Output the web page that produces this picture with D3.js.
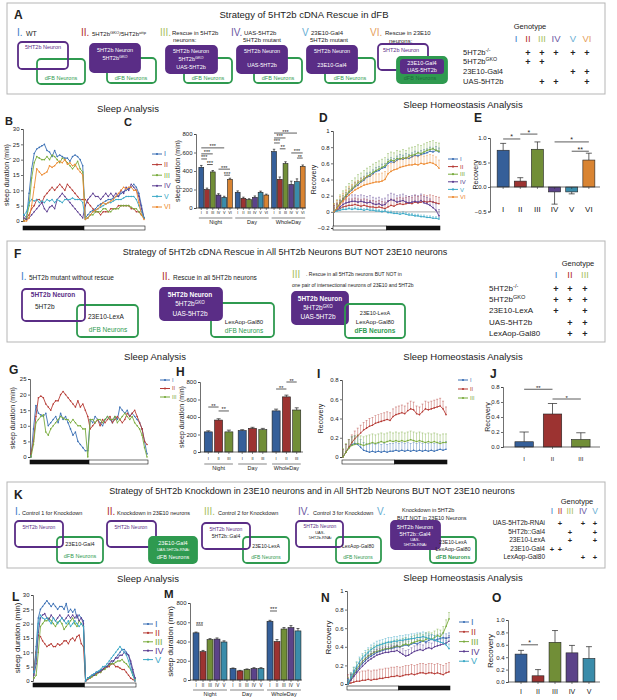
<!DOCTYPE html>
<html>
<head>
<meta charset="UTF-8">
<style>
  body { margin: 0; background: #fff; }
  svg { font-family: "Liberation Sans", Arial, sans-serif; }
  .axis text { font-size: 6px; fill: #222; }
  .axis path, .axis line { stroke: #333; stroke-width: 0.7; }
</style>
</head>
<body>
<svg width="617" height="700"></svg>
<script src="https://d3js.org/d3.v7.min.js"></script>
<script>
// ---------- data ----------
const romans = ["I", "II", "III", "IV", "V", "VI"];
const romanCol = ["#3d7cc9", "#b22d2a", "#a9bf5e", "#6b58a3", "#67aed3", "#e5a05c"];
const lineCol = ["#3a6fb4", "#b63a34", "#79ab3d", "#5b3c90", "#3aa8c6", "#ed8a30"];
const barCol = ["#355f99", "#9c3331", "#718e37", "#5b4389", "#3a8caa", "#d98432"];
const groupNames = ["Night", "Day", "WholeDay"];

// panel A genotype
const aGenoRows = ["5HT2b{-/-}", "5HT2b{GKO}", "23E10-Gal4", "UAS-5HT2b"];
const aGenoPlus = [[0,1,1,1,1,1],[0,1,1,0,0,0],[0,0,0,0,1,1],[0,0,1,1,0,1]];

// panel B sleep profiles (30 min bins, night then day)
const bI   = [2,1,9,17,22,23.5,24,24.5,25,23,22.5,21,23,21,21.5,21,20.5,20.5,19.5,21,21.5,21,20,18, 1,2,3,3.5,4,5,5.5,6,6.5,7,7,7.5,8,8,9,9.5,10,10.5,11,12,11,9,5,1];
const bII  = [0,1,2,4,5,7,7,6,8,9,10,11,10,11,12,11,10,12,11,10,9,8,7,7, 7,6,5,4,3,3,2,3,3,3,4,4,4,5,5,5,5,5,4,4,3,3,2,1];
const bIII = [0,1,5,14,19,21,20.5,20,20,21,20,21.5,21,20,19,20.5,20,19,18,17,18,19.5,17,16, 1,1,2,2,3,3,3,4,4,3,3,4,4,4,5,5,5,5,4.5,4,4,3,2,1];
const bIV  = [1,0.5,1,2,3,4,5,6,4,3,4.5,5,4,7,8,9,8,7,6,5,4,3,2,1, 5,7,8,9,8,8,7,8,9,8,9,8,9,8,10,9,11,10,12,11,10,8,4,1];
const bV   = [2,3,6,7,6.5,7,6,6.5,6,7,6.5,7,6,7,6.5,6,7,7,7,7.5,7,7,7,6, 0.5,1,2,3,3.5,4,4.5,5,5.5,6,6,6.5,7,7,7,7.5,8,8,8,8,7,5,3,1];
const bVI  = [0,0,1,5,11,17,16,15,15.5,16,18,17.5,18,19,19.5,19,20,18.5,19,18,18.5,17,16,15, 0.5,1,2,3,3.5,4,5,6,5.5,6,6.5,7,8,9,10,11,10.5,11,11,10,10,6,2,0.5];

// panel C sleep duration (min)
const cNight = [440,200,390,140,115,310], cNightErr = [20,15,15,15,12,12];
const cDay = [170,105,90,115,170,140], cDayErr = [15,12,10,15,12,10];
const cWhole = [610,310,480,255,285,450], cWholeErr = [25,25,20,35,30,15];
const cSig = [[0,4,650,"***"],[0,2,585,"***"],[0,1,530,"***"],[1,2,470,"***"],[3,5,420,"***"],[4,5,355,"***"],
              [12,16,810,"***"],[12,14,757,"***"],[12,13,703,"***"],[13,14,640,"**"],[15,17,595,"***"],[16,17,540,"**"]];

// panel D recovery curves
const dI   = [0,.04,.1,.15,.19,.24,.27,.31,.33,.37,.39,.43,.44,.47,.5,.51,.54,.55,.6,.62,.61,.64,.66,.65,.67,.66,.68,.7,.69,.71,.72,.73,.75,.74,.76,.74];
const dII  = [0,.02,.04,.06,.07,.08,.08,.09,.08,.07,.08,.07,.06,.06,.05,.06,.05,.04,.06,.08,.07,.09,.1,.09,.1,.11,.1,.12,.11,.12,.13,.12,.13,.12,.11,.1];
const dIII = [0,.05,.11,.16,.21,.25,.29,.32,.36,.38,.41,.44,.46,.49,.51,.53,.55,.57,.62,.64,.63,.66,.65,.67,.66,.69,.7,.71,.73,.72,.74,.76,.77,.78,.76,.75];
const dIV  = [0,.03,.06,.09,.11,.12,.13,.13,.12,.13,.12,.11,.12,.1,.09,.1,.08,.09,.13,.15,.14,.12,.13,.14,.12,.11,.12,.13,.12,.14,.11,.1,.08,.05,.02,-.05];
const dV   = [0,.01,.02,.03,.03,.04,.03,.04,.03,.03,.02,.03,.02,.02,.01,.01,0,.01,-.01,-.01,-.02,-.02,-.03,-.02,-.03,-.04,-.04,-.05,-.05,-.06,-.06,-.07,-.07,-.08,-.08,-.09];
const dVI  = [0,.04,.09,.13,.17,.21,.24,.27,.29,.31,.33,.34,.35,.36,.37,.37,.38,.4,.47,.5,.52,.53,.55,.56,.57,.58,.58,.59,.58,.6,.59,.6,.61,.6,.58,.54];
const dErr = [0.05, 0.08, 0.1, 0.08, 0.02, 0.1];

// panel E recovery
const eVals = [0.75,0.12,0.77,-0.1,-0.1,0.55], eErr = [0.14,0.07,0.15,0.25,0.04,0.14];
const eSig = [[0,1,0.98,"*"],[1,2,1.08,"*"],[3,5,0.92,"*"],[4,5,0.73,"**"]];

// panel F genotype
const fGenoRows = ["5HT2b{-/-}", "5HT2b{GKO}", "23E10-LexA", "UAS-5HT2b", "LexAop-Gal80"];
const fGenoPlus = [[1,1,1],[1,1,1],[1,0,1],[0,1,1],[0,1,1]];

// panel G sleep profiles
const gI   = [0,9,16.5,14,13.5,13,14,10,11,12,13,11,14,12,13,11,9,7,8,5,4,3,2,2, 12,11,13,12,11,10,12,13,12,11,13,12,16,15,14,15,13,14,13,12,11,9,5,1];
const gII  = [1,5,13,19,19.5,19,17,16,15,17,18,18,20,21,20,19,18,17,16,18,16,17,15,13, 9,10,11,12,10,12,11,12,13,11,12,13,12,11,12,14,13,14,15,13,11,9,5,4];
const gIII = [0,4,11,12,13,13.5,8,7,9,10,11,12,13,12.5,12,12,11,12,11,10,10,9,9,0, 12,12,11,12,12,11,12,13,12,12,13,11,12,13,14,13,12,13,11,10,9,7,3,0];

// panel H
const hNight = [230,365,230], hNightErr = [12,15,20];
const hDay = [245,270,255], hDayErr = [10,12,15];
const hWhole = [470,630,480], hWholeErr = [20,20,25];
const hSig = [[0,1,514,"**"],[1,2,469,"**"],[6,7,720,"**"],[7,8,800,"**"]];

// panel I recovery curves
const iI   = [0,.05,.1,.13,.14,.13,.1,.07,.06,.05,.06,.05,.06,.05,.06,.05,.06,.06,.07,.06,.07,.06,.07,.06,.07,.06,.07,.06,.07,.06,.07,.06,.07,.08,.07,.08];
const iII  = [0,.05,.1,.15,.19,.22,.25,.28,.3,.32,.33,.35,.36,.37,.38,.39,.38,.42,.44,.45,.46,.45,.48,.5,.49,.45,.44,.47,.5,.49,.5,.51,.52,.53,.5,.44];
const iIII = [0,.05,.09,.12,.13,.14,.13,.12,.13,.14,.15,.14,.15,.16,.15,.16,.17,.16,.17,.16,.17,.16,.17,.18,.17,.16,.17,.16,.15,.16,.15,.16,.15,.14,.15,.15];
const iErr = [0.08, 0.08, 0.09];

// panel J
const jVals = [0.07,0.44,0.1], jErr = [0.13,0.14,0.09];
const jSig = [[0,1,0.77,"**"],[1,2,0.64,"*"]];

// panel K genotype
const kGenoRows = ["UAS-5HT2b-RNAi", "5HT2b::Gal4", "23E10-LexA", "23E10-Gal4", "LexAop-Gal80"];
const kGenoPlus = [[0,1,0,1,1],[0,0,1,0,1],[0,0,1,0,1],[1,1,0,0,0],[0,0,0,1,1]];

// panel L sleep profiles
const lI   = [3,12,22,25,26,27,28,27,26,27,26,25,26,26,25,27,24,25,24,25,22,23,22,21, 0,1,1.5,2,2.5,3,3,4,4,5,5,6,6,7,8,9,10,11,11,10,9,6,3,1];
const lII  = [4,10,16,15.5,14,13,12,12.5,13,12,12,13,12.5,13,14,14,13,14.5,15,14,15.5,16,13,12, 0,0.5,1,1.5,2,2.5,3,3,4,4.5,5,5,6,6,5,5,4.5,4,4,3,2,1,0.5,0];
const lIII = [1,2,10,19,20,21,21,22,21,20,19,20.5,21,20,18,19,20,21,22,20,19,21,20,19, 0,1,1,1.5,2,2,3,3,4,4,5,5.5,6,6,6.5,7,7,7.5,6.5,6,5,4,2,0.5];
const lIV  = [2,6,17,22,23,23.5,22,21.5,23,22,21,22,23,22,21,22,23,22,23,22,23,21,22,20, 0,1,1.5,2,2,3,3,3.5,4,5,5,6,7,7,8,8,9,9,10,9.5,9,7,4,1];
const lV   = [3,9,20,23,22,21.5,22,21,20,22,21,20,21,22,21,20,21,19,20,21,20,19,20,19, 0,1,1.5,2,2.5,3,3.5,4,5,5,6,7,8,9,10,11,12,11,10,9,7,4,2,0];

// panel M
const mNight = [490,295,420,425,395], mNightErr = [8,12,10,12,12];
const mDay = [120,95,110,120,120], mDayErr = [5,5,5,8,8];
const mWhole = [610,400,530,545,510], mWholeErr = [10,20,15,20,25];
const mSig = [[0,1,571,"***"],[10,11,717,"***"]];

// panel N recovery curves
const nI   = [0,.05,.1,.14,.18,.22,.25,.28,.3,.32,.34,.35,.36,.37,.38,.38,.39,.4,.4,.41,.42,.41,.43,.44,.43,.45,.46,.45,.47,.48,.47,.48,.49,.5,.49,.5];
const nII  = [0,.01,.02,.03,.03,.04,.04,.05,.04,.05,.05,.06,.06,.07,.07,.08,.08,.09,.08,.09,.1,.1,.11,.1,.11,.12,.12,.11,.12,.12,.11,.12,.11,.1,.12,.13];
const nIII = [0,.05,.11,.16,.2,.24,.27,.3,.32,.34,.35,.36,.37,.38,.38,.39,.4,.41,.4,.42,.43,.42,.44,.45,.46,.47,.46,.48,.49,.48,.5,.52,.51,.55,.62,.7];
const nIV  = [0,.04,.08,.12,.16,.19,.22,.25,.27,.29,.31,.32,.33,.34,.34,.35,.35,.36,.34,.32,.3,.31,.33,.35,.36,.37,.36,.38,.39,.38,.4,.41,.42,.43,.44,.46];
const nV   = [0,.07,.13,.19,.24,.28,.31,.34,.37,.39,.41,.42,.43,.44,.45,.45,.46,.46,.47,.47,.48,.48,.49,.49,.5,.5,.51,.5,.49,.48,.47,.46,.45,.44,.42,.38];
const nErr = [0.05, 0.1, 0.07, 0.06, 0.05];

// panel O
const oVals = [0.45,0.1,0.64,0.47,0.38], oErr = [0.06,0.1,0.19,0.12,0.19];
const oSig = [[0,1,0.6,"*"]];

// ---------- helpers ----------
const svg = d3.select("svg");
const PURPLE = "#5a2d86", GREEN = "#2f9a50";

function txt(x, y, s, size, o = {}) {
  const t = svg.append("text").attr("x", x).attr("y", y).attr("font-size", size)
    .attr("text-anchor", o.anchor || "start").attr("fill", o.fill || "#222");
  if (o.bold) t.attr("font-weight", "bold");
  s.split(/(\{[^}]*\})/).forEach(p => {
    if (!p) return;
    if (p[0] === "{") t.append("tspan").attr("baseline-shift", "super").attr("font-size", size * 0.7).text(p.slice(1, -1));
    else t.append("tspan").text(p);
  });
  if (o.rotate) t.attr("transform", `rotate(-90 ${x} ${y})`);
  return t;
}

function box(x, y, w, h, color, filled) {
  svg.append("rect").attr("x", x).attr("y", y).attr("width", w).attr("height", h).attr("rx", 4)
    .attr("fill", filled ? color : "none").attr("stroke", color).attr("stroke-width", 1.8);
}

function frame(y, h) {
  svg.append("rect").attr("x", 7).attr("y", y).attr("width", 598).attr("height", h)
    .attr("fill", "none").attr("stroke", "#b5b5b5").attr("stroke-width", 1);
}

function roman(x, y, s, c) {
  txt(x, y, s, 10, {fill: c});
}

function genotype(o) {
  txt(o.gx, o.gy, "Genotype", 7.5, {anchor: "middle"});
  o.cols.forEach((cx, k) => txt(cx, o.ny, romans[k], o.nsize || 9.5, {anchor: "middle", fill: romanCol[k]}));
  o.rows.forEach((r, ri) => {
    txt(o.lx, o.ry[ri], r, o.lsize, {anchor: o.lanchor || "start"});
    o.plus[ri].forEach((p, k) => { if (p) txt(o.cols[k], o.ry[ri] + 1, "+", o.psize || 9, {anchor: "middle", bold: true}); });
  });
}

function lineChart(o) {
  const g = svg.append("g");
  const n = o.data[0].length;
  const x = d3.scaleLinear().domain([0, n - 1]).range([o.left + 1, o.right - 1]);
  const y = d3.scaleLinear().domain(o.yDom).range([o.bottom, o.top]);
  g.append("g").attr("class", "axis").attr("transform", `translate(${o.left},0)`)
    .call(d3.axisLeft(y).tickValues(o.ticks).tickSize(2).tickPadding(1.5).tickFormat(o.fmt));
  if (o.zeroLine) g.append("line").attr("x1", o.left).attr("x2", o.right).attr("y1", y(0)).attr("y2", y(0))
    .attr("stroke", "#bbb").attr("stroke-width", 1.2);
  o.data.forEach((arr, k) => {
    const c = o.colors[k];
    if (o.errs) {
      const e = o.errs[k];
      g.append("g").selectAll("line").data(arr).join("line")
        .attr("x1", (d, i) => x(i)).attr("x2", (d, i) => x(i))
        .attr("y1", d => y(d)).attr("y2", d => y(d + e))
        .attr("stroke", c).attr("stroke-width", 0.6).attr("opacity", 0.7);
      g.append("g").selectAll("line").data(arr).join("line")
        .attr("x1", (d, i) => x(i) - 1).attr("x2", (d, i) => x(i) + 1)
        .attr("y1", d => y(d + e)).attr("y2", d => y(d + e))
        .attr("stroke", c).attr("stroke-width", 0.6).attr("opacity", 0.7);
    }
    g.append("path").datum(arr).attr("fill", "none").attr("stroke", c).attr("stroke-width", 0.9)
      .attr("d", d3.line().x((d, i) => x(i)).y(d => y(d)));
    g.append("g").selectAll("circle").data(arr).join("circle")
      .attr("cx", (d, i) => x(i)).attr("cy", d => y(d)).attr("r", 0.8).attr("fill", c);
  });
  // light/dark bar
  const mid = (o.left + o.right) / 2;
  const segs = o.nightFirst ? [[o.left, mid, "#111"], [mid, o.right, "#fff"]] : [[o.left, mid, "#fff"], [mid, o.right, "#111"]];
  segs.forEach(s => g.append("rect").attr("x", s[0]).attr("y", o.barY).attr("width", s[1] - s[0]).attr("height", 4)
    .attr("fill", s[2]).attr("stroke", "#111").attr("stroke-width", 0.6));
  // legend
  o.names.forEach((nm, k) => {
    const ly = o.legY + k * o.legStep, c = o.colors[k];
    g.append("line").attr("x1", o.legX).attr("x2", o.legX + 10).attr("y1", ly).attr("y2", ly)
      .attr("stroke", c).attr("stroke-width", 1);
    g.append("circle").attr("cx", o.legX + 5).attr("cy", ly).attr("r", 1.1).attr("fill", c);
    txt(o.legX + 12, ly + o.legSize * 0.35, nm, o.legSize, {fill: c});
  });
  txt(o.ylabX, (o.top + o.bottom) / 2, o.ylab, o.ylabSize || 7, {anchor: "middle", rotate: true});
}

function barChart(o) {
  const g = svg.append("g");
  const n = o.values.length, per = o.perGroup || n, ng = Math.ceil(n / per), gap = o.gap || 0;
  const band = d3.scaleBand().domain(d3.range(n)).range([o.left + 2, o.right - gap * (ng - 1)]).padding(o.pad);
  const pos = i => band(i) + gap * Math.floor(i / per);
  const bw = band.bandwidth();
  const y = d3.scaleLinear().domain(o.yDom).range([o.bottom, o.top]);
  g.append("g").attr("class", "axis").attr("transform", `translate(${o.left},0)`)
    .call(d3.axisLeft(y).tickValues(o.ticks).tickSize(2).tickPadding(1.5).tickFormat(o.fmt));
  g.selectAll("rect").data(o.values).join("rect")
    .attr("x", (d, i) => pos(i)).attr("y", d => Math.min(y(d), y(0)))
    .attr("width", bw).attr("height", d => Math.abs(y(d) - y(0)))
    .attr("fill", (d, i) => o.colors[i % o.colors.length]).attr("stroke", "#222").attr("stroke-width", 0.6);
  o.values.forEach((v, i) => {
    const end = v >= 0 ? v + o.errs[i] : v - o.errs[i], cx = pos(i) + bw / 2;
    g.append("line").attr("x1", cx).attr("x2", cx).attr("y1", y(v)).attr("y2", y(end)).attr("stroke", "#222").attr("stroke-width", 0.7);
    g.append("line").attr("x1", cx - bw * 0.25).attr("x2", cx + bw * 0.25).attr("y1", y(end)).attr("y2", y(end)).attr("stroke", "#222").attr("stroke-width", 0.7);
    g.append("line").attr("x1", cx).attr("x2", cx).attr("y1", y(0)).attr("y2", y(0) + 2).attr("stroke", "#333").attr("stroke-width", 0.6);
  });
  g.append("line").attr("x1", o.left).attr("x2", o.right).attr("y1", y(0)).attr("y2", y(0)).attr("stroke", "#333").attr("stroke-width", 0.7);
  o.labels.forEach((s, i) => txt(pos(i) + bw / 2, o.labY, s, o.labSize, {anchor: "middle"}));
  if (o.groups) o.groups.forEach((nm, gi) => {
    const a = pos(gi * per), b = pos(gi * per + per - 1) + bw;
    g.append("line").attr("x1", a).attr("x2", b).attr("y1", o.groupY - 6).attr("y2", o.groupY - 6).attr("stroke", "#333").attr("stroke-width", 0.6);
    txt((a + b) / 2, o.groupY, nm, o.groupSize || 5.5, {anchor: "middle"});
  });
  (o.sig || []).forEach(([i, j, v, s]) => {
    const a = pos(i) + bw / 2, b = pos(j) + bw / 2;
    g.append("line").attr("x1", a).attr("x2", b).attr("y1", y(v)).attr("y2", y(v)).attr("stroke", "#333").attr("stroke-width", 0.8);
    txt((a + b) / 2, y(v) + 0.5, s, o.sigSize || 6, {anchor: "middle"});
  });
  txt(o.ylabX, (o.top + o.bottom) / 2, o.ylab, o.ylabSize || 7, {anchor: "middle", rotate: true});
}

const fmtInt = d3.format("d");
const fmtRec = d => d === 0 ? "0" : (d === 1 ? "1" : d3.format(".1f")(d));
const fmt1 = d3.format(".1f");

// ================= PANEL A =================
frame(3, 91);
txt(14, 19, "A", 12, {bold: true});
txt(304, 18, "Strategy of 5HT2b cDNA Rescue in dFB", 9.5, {anchor: "middle"});
roman(17, 36, "I.", romanCol[0]); txt(26, 36, "WT", 7);
roman(81, 36, "II.", romanCol[1]); txt(92, 36, "5HT2b{GKO}/5HT2b{attp}", 6);
roman(160, 36, "III.", romanCol[2]); txt(172, 35, "Rescue in 5HT2b", 6); txt(173, 42, "neurons:", 6);
roman(231, 36, "IV.", romanCol[3]); txt(244, 35, "UAS-5HT2b", 6); txt(243, 42, "5HT2b mutant", 6);
roman(302, 36, "V", romanCol[4]); txt(311, 35, "23E10-Gal4", 6); txt(310, 42, "5HT2b mutant", 6);
roman(370, 36, "VI.", romanCol[5]); txt(385, 35, "Rescue in 23E10", 6); txt(389, 43, "neurons:", 6);

box(37, 59, 48, 25, GREEN, false); box(18, 42, 50, 27, PURPLE, false);
txt(43, 49, "5HT2b Neuron", 5.5, {anchor: "middle", fill: PURPLE}); txt(61, 80, "dFB Neurons", 5.5, {anchor: "middle", fill: GREEN});
box(107, 58, 49, 25, GREEN, false); box(90, 44, 50, 28, PURPLE, true);
txt(115, 52, "5HT2b Neuron", 5.5, {anchor: "middle", fill: "#fff"}); txt(115, 60, "5HT2b{GKO}", 5.5, {anchor: "middle", fill: "#fff"});
txt(131, 80, "dFB Neurons", 5.5, {anchor: "middle", fill: GREEN});
box(184, 58, 48, 25, GREEN, false); box(166, 46, 51, 27, PURPLE, true);
txt(191, 53, "5HT2b Neuron", 5.5, {anchor: "middle", fill: "#fff"}); txt(191, 61, "5HT2b{GKO}", 5.5, {anchor: "middle", fill: "#fff"});
txt(191, 69, "UAS-5HT2b", 5.5, {anchor: "middle", fill: "#fff"}); txt(208, 80, "dFB Neurons", 5.5, {anchor: "middle", fill: GREEN});
box(254, 58, 48, 25, GREEN, false); box(237, 46, 50, 27, PURPLE, true);
txt(262, 53, "5HT2b Neuron", 5.5, {anchor: "middle", fill: "#fff"}); txt(262, 67, "UAS-5HT2b", 5.5, {anchor: "middle", fill: "#fff"});
txt(278, 80, "dFB Neurons", 5.5, {anchor: "middle", fill: GREEN});
box(325, 58, 50, 25, GREEN, false); box(307, 46, 50, 27, PURPLE, true);
txt(332, 53, "5HT2b Neuron", 5.5, {anchor: "middle", fill: "#fff"}); txt(332, 67, "23E10-Gal4", 5.5, {anchor: "middle", fill: "#fff"});
txt(350, 80, "dFB Neurons", 5.5, {anchor: "middle", fill: GREEN});
box(378, 44, 50, 26, PURPLE, false); box(397, 57, 50, 26, GREEN, true);
svg.append("rect").attr("x", 400).attr("y", 59).attr("width", 44).attr("height", 15).attr("rx", 3).attr("fill", PURPLE);
txt(401, 52, "5HT2b Neuron", 5.5, {anchor: "middle", fill: PURPLE});
txt(422, 65, "23E10-Gal4", 5.5, {anchor: "middle", fill: "#fff"}); txt(422, 72, "UAS-5HT2b", 5.5, {anchor: "middle", fill: "#fff"});
txt(420, 80, "dFB Neurons", 5.5, {anchor: "middle", fill: "#1f6b3a"});

genotype({gx: 530, gy: 29, ny: 42, cols: [516, 528, 542, 556, 573, 587], rows: aGenoRows, plus: aGenoPlus,
  lx: 463, ry: [55, 64, 74, 84], lsize: 7.5});

// ================= PANELS B-E =================
txt(128, 112, "Sleep Analysis", 9.5, {anchor: "middle"});
txt(463, 108, "Sleep Homeostasis Analysis", 9.5, {anchor: "middle"});
txt(5, 125, "B", 11, {bold: true}); txt(124, 126, "C", 11, {bold: true});
txt(319, 122, "D", 12, {bold: true}); txt(474, 122, "E", 12, {bold: true});

lineChart({data: [bI, bII, bIII, bIV, bV, bVI], colors: lineCol, names: romans,
  left: 23, right: 145, top: 129, bottom: 221, yDom: [0, 30], ticks: [0, 5, 10, 15, 20, 25, 30], fmt: fmtInt,
  nightFirst: true, barY: 226, legX: 152, legY: 154, legStep: 10.6, legSize: 7, ylabX: 9, ylab: "sleep duration (min)"});

barChart({values: cNight.concat(cDay, cWhole), errs: cNightErr.concat(cDayErr, cWholeErr), colors: barCol,
  perGroup: 6, gap: 2, pad: 0.15, left: 196, right: 306, top: 134, bottom: 208, yDom: [0, 800],
  ticks: [0, 200, 400, 600, 800], fmt: fmtInt, labels: romans.concat(romans, romans), labY: 214, labSize: 3.8,
  groups: groupNames, groupY: 224, sig: cSig, sigSize: 5.5, ylabX: 180, ylab: "sleep duration (min)"});

lineChart({data: [dI, dII, dIII, dIV, dV, dVI], errs: dErr, colors: lineCol, names: romans,
  left: 333, right: 440, top: 131, bottom: 228, yDom: [-0.2, 1], ticks: [-0.2, 0, 0.2, 0.4, 0.6, 0.8, 1], fmt: fmtRec,
  zeroLine: true, nightFirst: false, barY: 226, legX: 448, legY: 159, legStep: 7.6, legSize: 6, ylabX: 316, ylab: "Recovery"});

barChart({values: eVals, errs: eErr, colors: barCol, pad: 0.3, left: 490, right: 600, top: 138, bottom: 211.5,
  yDom: [-0.5, 1.0], ticks: [-0.5, 0, 0.5, 1.0], fmt: fmt1, labels: romans, labY: 212, labSize: 8,
  sig: eSig, sigSize: 7, ylabX: 478, ylab: "Recovery"});

// ================= PANEL F =================
frame(241, 101);
txt(14, 258, "F", 12, {bold: true});
txt(285, 255, "Strategy of 5HT2b cDNA Rescue in All 5HT2b Neurons BUT NOT 23E10 neurons", 9, {anchor: "middle"});
roman(21, 280, "I.", romanCol[0]); txt(29, 280, "5HT2b mutant without rescue", 6.5);
roman(162, 280, "II.", romanCol[1]); txt(173, 280, "Rescue in all 5HT2b neurons", 6.5);
roman(292, 278, "III", romanCol[2]); txt(306, 276, ". Rescue in all 5HT2b neurons BUT NOT in", 5);
txt(292, 287, "one pair of intersectional neurons of 23E10 and 5HT2b", 5);

box(77, 305, 61, 32, GREEN, false); box(22, 289, 63, 32, PURPLE, false);
txt(53, 297, "5HT2b Neuron", 6.5, {anchor: "middle", fill: PURPLE, bold: true}); txt(35, 309, "5HT2b", 6.5);
txt(88, 319, "23E10-LexA", 6.5); txt(108, 332, "dFB Neurons", 6.5, {anchor: "middle", fill: GREEN});
box(211, 303, 63, 34, GREEN, false); box(160, 288, 62, 32, PURPLE, true);
txt(190, 297, "5HT2b Neuron", 6.5, {anchor: "middle", fill: "#fff", bold: true});
txt(190, 306, "5HT2b{GKO}", 6.5, {anchor: "middle", fill: "#fff"}); txt(190, 316, "UAS-5HT2b", 6.5, {anchor: "middle", fill: "#fff"});
txt(244, 324, "LexAop-Gal80", 6, {anchor: "middle"}); txt(244, 333, "dFB Neurons", 6.5, {anchor: "middle", fill: GREEN});
box(292, 292, 56, 32, PURPLE, true); box(345, 304, 60, 34, GREEN, false);
txt(320, 301, "5HT2b Neuron", 6.5, {anchor: "middle", fill: "#fff", bold: true});
txt(318, 310, "5HT2b{GKO}", 6.5, {anchor: "middle", fill: "#fff"}); txt(318, 319, "UAS-5HT2b", 6.5, {anchor: "middle", fill: "#fff"});
txt(375, 315, "23E10-LexA", 5.5, {anchor: "middle"}); txt(375, 324, "LexAop-Gal80", 6, {anchor: "middle"});
txt(375, 333, "dFB Neurons", 6.5, {anchor: "middle", fill: GREEN, bold: true});

genotype({gx: 578, gy: 266, ny: 278, cols: [556, 570, 585], rows: fGenoRows, plus: fGenoPlus,
  lx: 489, ry: [291, 302, 313, 325, 336], lsize: 8});

// ================= PANELS G-J =================
txt(155, 360, "Sleep Analysis", 9.5, {anchor: "middle"});
txt(463, 360, "Sleep Homeostasis Analysis", 9.5, {anchor: "middle"});
txt(9, 374, "G", 12, {bold: true}); txt(176, 376, "H", 12, {bold: true});
txt(317, 378, "I", 12, {bold: true}); txt(490, 378, "J", 12, {bold: true});

lineChart({data: [gI, gII, gIII], colors: lineCol.slice(0, 3), names: romans.slice(0, 3),
  left: 30, right: 148, top: 379, bottom: 457, yDom: [0, 25], ticks: [0, 5, 10, 15, 20, 25], fmt: fmtInt,
  nightFirst: true, barY: 460, legX: 160, legY: 380, legStep: 8.5, legSize: 5.5, ylabX: 15, ylab: "sleep duration (min)"});

barChart({values: hNight.concat(hDay, hWhole), errs: hNightErr.concat(hDayErr, hWholeErr), colors: barCol.slice(0, 3),
  perGroup: 3, gap: 3, pad: 0.22, left: 200, right: 303, top: 382, bottom: 452, yDom: [0, 800],
  ticks: [0, 200, 400, 600, 800], fmt: fmtInt, labels: romans.slice(0, 3).concat(romans.slice(0, 3), romans.slice(0, 3)),
  labY: 460, labSize: 4, groups: groupNames, groupY: 470, sig: hSig, sigSize: 5.5, ylabX: 184, ylab: "sleep duration (min)"});

lineChart({data: [iI, iII, iIII], errs: iErr, colors: lineCol.slice(0, 3), names: romans.slice(0, 3),
  left: 342, right: 447, top: 380, bottom: 457, yDom: [0, 0.8], ticks: [0, 0.2, 0.4, 0.6, 0.8], fmt: fmtRec,
  nightFirst: false, barY: 460, legX: 458, legY: 380, legStep: 9, legSize: 5.5, ylabX: 323, ylab: "Recovery"});

barChart({values: jVals, errs: jErr, colors: barCol.slice(0, 3), pad: 0.35, left: 503, right: 600, top: 387, bottom: 447,
  yDom: [0, 0.8], ticks: [0, 0.2, 0.4, 0.6, 0.8], fmt: fmt1, labels: romans.slice(0, 3), labY: 461, labSize: 6,
  sig: jSig, sigSize: 6, ylabX: 490, ylab: "Recovery"});

// ================= PANEL K =================
frame(482, 86);
txt(14, 499, "K", 12, {bold: true});
txt(312, 494, "Strategy of 5HT2b Knockdown in 23E10 neurons and in All 5HT2b Neurons BUT NOT 23E10 neurons", 9, {anchor: "middle"});
roman(15, 515, "I.", romanCol[0]); txt(22, 515, "Control 1 for Knockdown", 5.5);
roman(107, 515, "II.", romanCol[1]); txt(117, 515, "Knockdown in 23E10 neurons", 5.5);
roman(204, 515, "III.", romanCol[2]); txt(218, 515, "Control 2 for Knockdown", 5.5);
roman(298, 515, "IV.", romanCol[3]); txt(313, 515, "Control 3 for Knockdown", 5.5);
roman(377, 515, "V.", romanCol[4]); txt(402, 512, "Knockdown in 5HT2b", 5.5); txt(397, 520, "BUT NOT in 23E10 Neurons", 5.5);

box(57, 537, 46, 26, GREEN, false); box(15, 521, 48, 26, PURPLE, false);
txt(39, 529, "5HT2b Neuron", 5, {anchor: "middle", fill: PURPLE});
txt(80, 546, "23E10-Gal4", 5.5, {anchor: "middle"}); txt(80, 558, "dFB Neurons", 5.5, {anchor: "middle", fill: GREEN});
box(107, 521, 49, 26, PURPLE, false); box(149, 537, 48, 26, GREEN, true);
txt(131, 529, "5HT2b Neuron", 5, {anchor: "middle", fill: PURPLE});
txt(173, 545, "23E10-Gal4", 5.5, {anchor: "middle", fill: "#fff"}); txt(173, 551, "UAS-5HT2b-RNAi", 4, {anchor: "middle", fill: "#fff"});
txt(173, 559, "dFB Neurons", 5.5, {anchor: "middle", fill: "#fff"});
box(243, 537, 46, 26, GREEN, false); box(202, 523, 48, 26, PURPLE, false);
txt(226, 531, "5HT2b Neuron", 5, {anchor: "middle", fill: PURPLE}); txt(226, 538, "5HT2b::Gal4", 5, {anchor: "middle"});
txt(266, 548, "23E10-LexA", 5, {anchor: "middle"}); txt(266, 559, "dFB Neurons", 5, {anchor: "middle", fill: GREEN});
box(336, 537, 45, 26, GREEN, false); box(296, 521, 47, 26, PURPLE, false);
txt(320, 528, "5HT2b Neuron", 5, {anchor: "middle", fill: PURPLE}); txt(320, 534, "UAS-", 4, {anchor: "middle"});
txt(320, 539, "5HT2b-RNAi", 4, {anchor: "middle"});
txt(358, 548, "LexAop-Gal80", 5, {anchor: "middle"}); txt(358, 559, "dFB Neurons", 5, {anchor: "middle", fill: GREEN});
box(430, 537, 46, 26, GREEN, false); box(391, 521, 49, 28, PURPLE, true);
txt(415, 529, "5HT2b Neuron", 5.5, {anchor: "middle", fill: "#fff"}); txt(415, 536, "5HT2b::Gal4", 5.5, {anchor: "middle", fill: "#fff"});
txt(415, 541, "UAS-", 4, {anchor: "middle", fill: "#fff"}); txt(415, 546, "5HT2b-RNAi", 4, {anchor: "middle", fill: "#fff"});
txt(453, 544, "23E10-LexA", 5, {anchor: "middle"}); txt(453, 551, "LexAop-Gal80", 5.5, {anchor: "middle"});
txt(453, 559, "dFB Neurons", 5.5, {anchor: "middle", fill: GREEN, bold: true});

genotype({gx: 577, gy: 504, ny: 514, nsize: 8.5, cols: [552, 560, 570, 583, 595], rows: kGenoRows, plus: kGenoPlus,
  lx: 545, lanchor: "end", ry: [525, 533.5, 542, 550.5, 559], lsize: 6.5, psize: 7.5});

// ================= PANELS L-O =================
txt(148, 582, "Sleep Analysis", 9.5, {anchor: "middle"});
txt(463, 581, "Sleep Homeostasis Analysis", 9.5, {anchor: "middle"});
txt(12, 601, "L", 12, {bold: true}); txt(164, 598, "M", 11.5, {bold: true});
txt(321, 602, "N", 12, {bold: true}); txt(492, 602, "O", 12, {bold: true});

lineChart({data: [lI, lII, lIII, lIV, lV], colors: lineCol.slice(0, 5), names: romans.slice(0, 5),
  left: 33, right: 136, top: 595, bottom: 681, yDom: [0, 30], ticks: [0, 5, 10, 15, 20, 25, 30], fmt: fmtInt,
  nightFirst: true, barY: 683, legX: 143, legY: 624, legStep: 8.9, legSize: 9, ylabX: 20, ylab: "sleep duration (min)", ylabSize: 8});

barChart({values: mNight.concat(mDay, mWhole), errs: mNightErr.concat(mDayErr, mWholeErr), colors: barCol.slice(0, 5),
  perGroup: 5, gap: 2, pad: 0.15, left: 190, right: 302, top: 603, bottom: 680, yDom: [0, 800],
  ticks: [0, 200, 400, 600, 800], fmt: fmtInt, labels: romans.slice(0, 5).concat(romans.slice(0, 5), romans.slice(0, 5)),
  labY: 687, labSize: 4.5, groups: groupNames, groupY: 696, sig: mSig, sigSize: 6, ylabX: 173, ylab: "sleep duration (min)", ylabSize: 8});

lineChart({data: [nI, nII, nIII, nIV, nV], errs: nErr, colors: lineCol.slice(0, 5), names: romans.slice(0, 5),
  left: 347, right: 450, top: 591, bottom: 684, yDom: [0, 1], ticks: [0, 0.2, 0.4, 0.6, 0.8, 1], fmt: fmtRec,
  nightFirst: false, barY: 686, legX: 459, legY: 622, legStep: 9.8, legSize: 9, ylabX: 331, ylab: "Recovery", ylabSize: 8});

barChart({values: oVals, errs: oErr, colors: barCol.slice(0, 5), pad: 0.3, left: 508, right: 600, top: 620, bottom: 682,
  yDom: [0, 1.0], ticks: [0, 0.2, 0.4, 0.6, 0.8, 1.0], fmt: fmt1, labels: romans.slice(0, 5), labY: 694, labSize: 7,
  sig: oSig, sigSize: 7, ylabX: 493, ylab: "Recovery", ylabSize: 8});
</script>
</body>
</html>
